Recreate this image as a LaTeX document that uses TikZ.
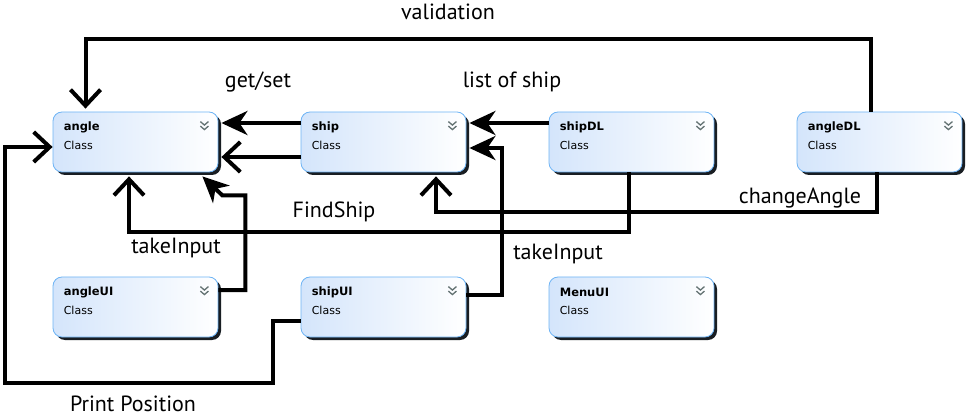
\documentclass[tikz,border=0pt]{standalone}
\usepackage{fontspec}
\setmainfont{PT Sans}
\newfontfamily\boxfont{DejaVu Sans}
\usetikzlibrary{arrows.meta,shadows,calc}
\definecolor{bordc}{RGB}{110,180,245}
\definecolor{fillL}{RGB}{212,229,251}
\definecolor{shadc}{RGB}{25,30,35}
\definecolor{chevc}{RGB}{100,115,115}
\tikzset{
  oarr/.tip={Straight Barb[length=16pt,width=30pt,line width=4pt]},
  farr/.tip={Stealth[length=26pt,width=24pt,inset=8pt]},
}
\begin{document}
\begin{tikzpicture}[x=1pt,y=-1pt,
  classbox/.style={rectangle, rounded corners=9pt, minimum width=165pt, minimum height=60pt,
    draw=bordc, line width=0.8pt, left color=fillL, right color=white,
    general shadow={fill=shadc, shadow xshift=3pt, shadow yshift=-3pt}},
  titlef/.style={font=\boxfont\bfseries\fontsize{11.5}{13}\selectfont, inner sep=0pt, anchor=west},
  subf/.style={font=\boxfont\fontsize{11}{12}\selectfont, inner sep=0pt, anchor=west},
  chev/.style={draw=chevc, line width=1.3pt},
  conn/.style={draw=black, line width=4pt},
  lab/.style={font=\fontsize{22}{26}\selectfont, inner sep=0pt},
]
\useasboundingbox (0,0) rectangle (973,419);

% class boxes
\node[classbox] (angle)   at (135.5,142) {};
\node[classbox] (ship)    at (383.5,142) {};
\node[classbox] (shipDL)  at (631.5,142) {};
\node[classbox] (angleDL) at (879.5,142) {};
\node[classbox] (angleUI) at (135.5,307) {};
\node[classbox] (shipUI)  at (383.5,307) {};
\node[classbox] (MenuUI)  at (631.5,307) {};

\foreach \n/\t in {angle/angle,ship/ship,shipDL/shipDL,angleDL/angleDL,angleUI/angleUI,shipUI/shipUI,MenuUI/MenuUI}{
  \node[titlef] (\n-t) at ($(\n.north west)+(11,16)$) {\t};
  \node[subf] (\n-c) at ($(\n.north west)+(11,34)$) {Class};
  \draw[chev] ($(\n.north east)+(-18,10)$) -- ++(4,3.5) -- ++(4,-3.5);
  \draw[chev] ($(\n.north east)+(-18,14.5)$) -- ++(4,3.5) -- ++(4,-3.5);
}

% connectors
\draw[conn,-{oarr}] ([xshift=-8.5pt]angleDL.north) -- ++(0,-73) -| ([xshift=-50pt,yshift=3pt]angle.north);
\draw[conn,-{farr}] ([yshift=19pt]ship.west) -- ([xshift=3pt,yshift=19pt]angle.east);
\draw[conn,-{oarr}] ([yshift=-15pt]ship.west) -- ([xshift=3pt,yshift=-15pt]angle.east);
\draw[conn,-{farr}] ([yshift=19pt]shipDL.west) -- ([xshift=3pt,yshift=19pt]ship.east);
\draw[conn,-{farr}] ([yshift=12pt]shipUI.east) -| ([xshift=36pt,yshift=-6pt]ship.east) -- ([xshift=3pt,yshift=-6pt]ship.east);
\draw[conn,-{farr}] ([yshift=17pt]angleUI.east) -| ([xshift=27pt,yshift=-23pt]angle.south east) -- ([xshift=4pt,yshift=-23pt]angle.south east) -- ([xshift=-16pt,yshift=-4pt]angle.south east);
\draw[conn,-{oarr}] ([xshift=-2.5pt]shipDL.south) -- ++(0,60) -| ([xshift=-6.5pt,yshift=-4pt]angle.south);
\draw[conn,-{oarr}] ([xshift=-2.5pt]angleDL.south) -- ++(0,40) -| ([xshift=52.5pt,yshift=-4pt]ship.south);
\draw[conn,-{oarr}] ([yshift=-14pt]shipUI.west) -- ++(-28,0) -- ++(0,62) -- ++(-268,0) |- ([yshift=-5pt]angle.west);

% labels
\node[lab] (l-val)  at (448,12)  {validation};
\node[lab] (l-gs)   at (258,82)  {get/set};
\node[lab] (l-los)  at (512,82)  {list of ship};
\node[lab] (l-fs)   at (334,212) {FindShip};
\node[lab] (l-ca)   at (800,198) {changeAngle};
\node[lab] (l-ti1)  at (176,248) {takeInput};
\node[lab] (l-ti2)  at (558,254) {takeInput};
\node[lab] (l-pp)   at (133,404) {Print Position};
\end{tikzpicture}
\end{document}
